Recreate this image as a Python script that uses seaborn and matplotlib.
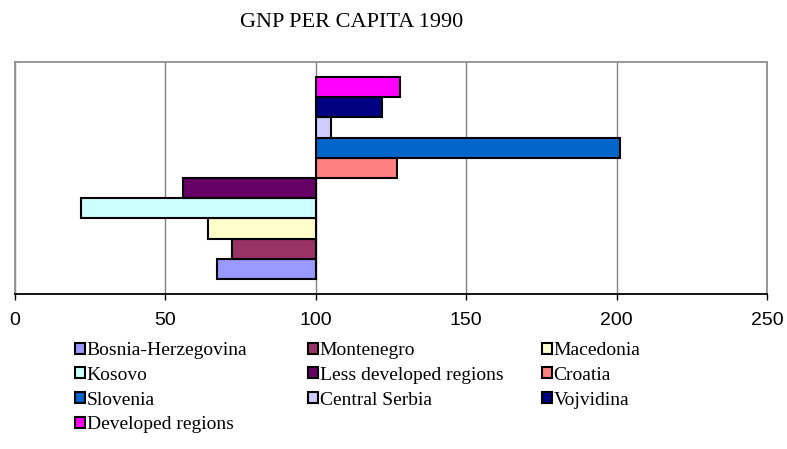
import matplotlib
matplotlib.use("Agg")
import matplotlib.pyplot as plt
from matplotlib.patches import Patch
import seaborn as sns
import pandas as pd

# GNP per capita 1990, Yugoslavia = 100
regions = [
    "Bosnia-Herzegovina", "Montenegro", "Macedonia", "Kosovo",
    "Less developed regions", "Croatia", "Slovenia", "Central Serbia",
    "Vojvidina", "Developed regions",
]
gnp_index = [67, 72, 64, 22, 56, 127, 201, 105, 122, 128]
base = 100
x_ticks = [0, 50, 100, 150, 200, 250]

colors = [
    "#9999FF", "#993366", "#FFFFCC", "#CCFFFF", "#660066",
    "#FF8080", "#0066CC", "#CCCCFF", "#000080", "#FF00FF",
]
palette = dict(zip(regions, colors))

df = pd.DataFrame({"region": regions, "gnp": gnp_index})
df["diff"] = df["gnp"] - base

sns.set_style("white", rc={"text.color": "black", "xtick.color": "black"})

fig = plt.figure(figsize=(7.87, 4.49), dpi=100)
ax = fig.add_axes([15 / 787, 1 - 294 / 449, 752 / 787, 232 / 449])

sns.barplot(
    data=df, y="region", x="diff", hue="region", order=regions,
    palette=palette, saturation=1, width=1.0, orient="y", left=base,
    edgecolor="black", linewidth=1.5, legend=False, ax=ax, zorder=3,
)

ax.set_xlim(0, 250)
ax.set_ylim(-1.25, len(regions) - 1 + 1.25)
ax.set_xticks(x_ticks)
ax.set_xticklabels([str(t) for t in x_ticks], fontfamily="Liberation Sans", fontsize=14)
ax.set_yticks([])
ax.set_xlabel("")
ax.set_ylabel("")

ax.grid(axis="x", color="#808080", linewidth=1.0, zorder=0)
ax.set_axisbelow(True)
for side in ["left", "top", "right"]:
    ax.spines[side].set_color("#909090")
    ax.spines[side].set_linewidth(1.3)
ax.spines["bottom"].set_color("black")
ax.spines["bottom"].set_linewidth(1.3)
ax.tick_params(axis="x", bottom=True, direction="out", length=4, width=1.0,
               color="black", pad=9)

fig.text(352 / 787, 1 - 26.7 / 449, "GNP PER CAPITA 1990", ha="center", va="baseline",
         fontfamily="Liberation Serif", fontsize=16)

# legend laid out row by row, three fixed-width columns
col_x = [75, 308, 542]
for c in range(3):
    idx = list(range(c, len(regions), 3))
    handles = [Patch(facecolor=colors[i], edgecolor="black", linewidth=1.5) for i in idx]
    labels = [regions[i] for i in idx]
    fig.legend(
        handles, labels, ncol=1, loc="upper left",
        bbox_to_anchor=(col_x[c] / 787, 1 - 342 / 449),
        frameon=False, prop={"family": "Liberation Serif", "size": 14},
        handlelength=0.5, handleheight=0.5, handletextpad=0.1,
        labelspacing=0.4, borderaxespad=0, borderpad=0,
    )

fig.savefig("out.png", dpi=100)
